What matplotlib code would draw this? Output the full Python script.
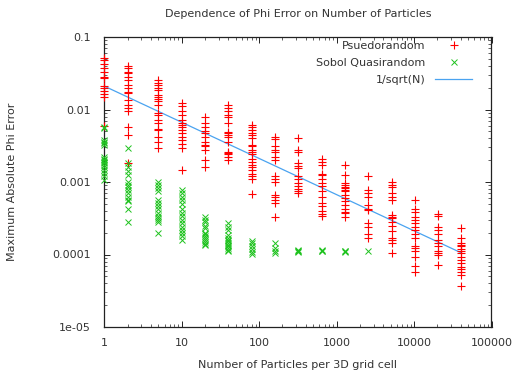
import matplotlib
matplotlib.use("Agg")
import matplotlib.pyplot as plt
from matplotlib.ticker import LogLocator, FixedLocator, FixedFormatter, NullFormatter

plt.rcParams['font.family'] = ['DejaVu Sans']

x_values = [1, 2, 5, 10, 20, 40, 80, 160, 320, 640, 1280, 2560, 5120, 10240, 20480, 40960]

pseudo = {
    1: [0.051, 0.048, 0.042, 0.037, 0.033, 0.028, 0.027, 0.021, 0.020, 0.018, 0.0164, 0.0147, 0.006],
    2: [0.040, 0.037, 0.033, 0.0315, 0.028, 0.0255, 0.022, 0.0196, 0.0176, 0.0167, 0.0135, 0.0115,
        0.0104, 0.0096, 0.0057, 0.0044, 0.0018],
    5: [0.0255, 0.0234, 0.0218, 0.0196, 0.0186, 0.0158, 0.015, 0.0139, 0.0132, 0.0115, 0.0089, 0.0084,
        0.0072, 0.0065, 0.0053, 0.0052, 0.0042, 0.0036, 0.0029],
    10: [0.0122, 0.0112, 0.0096, 0.0084, 0.0072, 0.0065, 0.0061, 0.0057, 0.0052, 0.0047, 0.0042, 0.0038,
         0.0033, 0.0029, 0.00147],
    20: [0.0078, 0.0065, 0.0057, 0.0051, 0.0048, 0.0042, 0.0036, 0.0032, 0.0031, 0.0028, 0.002, 0.0016],
    40: [0.0115, 0.0104, 0.0094, 0.0084, 0.008, 0.0066, 0.0049, 0.0047, 0.0044, 0.0042, 0.0036, 0.0026,
         0.0025, 0.0024, 0.0022, 0.002],
    80: [0.0061, 0.0057, 0.0052, 0.0048, 0.0044, 0.004, 0.0032, 0.0031, 0.0028, 0.0026, 0.0024, 0.0021,
         0.0019, 0.0017, 0.0016, 0.00146, 0.0013, 0.0012, 0.0011, 0.00068],
    160: [0.0042, 0.0039, 0.0031, 0.0028, 0.0026, 0.0022, 0.002, 0.0012, 0.0011, 0.001, 0.00066, 0.00062,
          0.00056, 0.00052, 0.00033],
    320: [0.0041, 0.0028, 0.0026, 0.0018, 0.00167, 0.00155, 0.0012, 0.0011, 0.00096, 0.00087, 0.0008,
          0.00074, 0.0007],
    640: [0.00206, 0.0019, 0.0017, 0.00129, 0.00125, 0.0011, 0.00096, 0.00087, 0.00074, 0.00063, 0.00051,
          0.00046, 0.0004, 0.00036, 0.00034],
    1280: [0.0017, 0.00125, 0.00098, 0.00091, 0.00086, 0.00082, 0.00078, 0.00074, 0.00066, 0.0006, 0.00054,
           0.00048, 0.00043, 0.00039, 0.00037, 0.00033],
    2560: [0.0012, 0.00078, 0.00071, 0.00063, 0.00048, 0.00043, 0.00041, 0.00027, 0.00024, 0.00019, 0.00017],
    5120: [0.001, 0.00091, 0.00086, 0.00071, 0.00063, 0.00056, 0.00035, 0.00033, 0.00032, 0.00028, 0.00025,
           0.00021, 0.000167, 0.000156, 0.000143, 0.000104],
    10240: [0.00056, 0.00043, 0.00039, 0.00033, 0.0003, 0.00027, 0.00024, 0.00022, 0.00019, 0.000167,
            0.000131, 0.000122, 0.000113, 0.000093, 0.0000693, 0.0000566],
    20480: [0.00036, 0.00034, 0.00024, 0.00022, 0.00019, 0.00016, 0.000143, 0.00013, 0.00011, 0.000104,
            0.0001, 0.000071],
    40960: [0.00023, 0.000167, 0.000146, 0.000136, 0.00013, 0.000119, 0.00011, 0.000104, 0.000093, 0.000084,
            0.000076, 0.000068, 0.000063, 0.000058, 0.000052, 0.000037],
}

sobol = {
    1: [0.0058, 0.0055, 0.0038, 0.0036, 0.0034, 0.0032, 0.0022, 0.0021, 0.0020, 0.0019, 0.0018, 0.0017,
        0.0016, 0.00146, 0.00133, 0.0012, 0.00107],
    2: [0.0029, 0.0018, 0.0016, 0.00143, 0.00125, 0.00101, 0.00091, 0.00086, 0.00078, 0.0007, 0.00063,
        0.00056, 0.00054, 0.00042, 0.00028],
    5: [0.00101, 0.00091, 0.00082, 0.00074, 0.00056, 0.00051, 0.00046, 0.00042, 0.00037, 0.00034, 0.00032,
        0.0003, 0.00028, 0.0002],
    10: [0.00078, 0.0007, 0.00063, 0.00056, 0.00049, 0.00042, 0.00037, 0.00034, 0.0003, 0.00027, 0.00024,
         0.00022, 0.0002, 0.00018, 0.00016],
    20: [0.00033, 0.0003, 0.00028, 0.00025, 0.00023, 0.0002, 0.00019, 0.00018, 0.00017, 0.00016, 0.00015,
         0.00014, 0.000135],
    40: [0.00027, 0.00024, 0.00022, 0.000186, 0.000168, 0.00016, 0.000152, 0.000144, 0.000136, 0.000129,
         0.000122, 0.000116, 0.00011],
    80: [0.000154, 0.000144, 0.000131, 0.000118, 0.000107, 0.000101],
    160: [0.000142, 0.000122, 0.000113, 0.000105],
    320: [0.000115, 0.000112, 0.00011, 0.000108],
    640: [0.000114, 0.000112, 0.00011],
    1280: [0.000113, 0.000111, 0.000109],
    2560: [0.000111],
}

line_x = [1, 40960]
line_y = [0.021, 0.000105]

x_ticks = [1, 10, 100, 1000, 10000, 100000]
x_tick_labels = ["1", "10", "100", "1000", "10000", "100000"]
y_ticks = [1e-5, 1e-4, 1e-3, 1e-2, 1e-1]
y_tick_labels = ["1e-05", "0.0001", "0.001", "0.01", "0.1"]

W, H = 518, 371
fig = plt.figure(figsize=(W / 100, H / 100), dpi=100)
L, R, T, B = 104.3, 491.5, 37, 327
ax = fig.add_axes([L / W, 1 - B / H, (R - L) / W, (B - T) / H])

px, py = [], []
for xv in x_values:
    for v in pseudo.get(xv, []):
        px.append(xv)
        py.append(v)
sx, sy = [], []
for xv in x_values:
    for v in sobol.get(xv, []):
        sx.append(xv)
        sy.append(v)

ax.plot(px, py, linestyle='none', marker='+', color='#ff0000', markersize=5.5,
        markeredgewidth=0.8, label='Psuedorandom', clip_on=False, zorder=3)
ax.plot(sx, sy, linestyle='none', marker='x', color='#1ec21e', markersize=4.2,
        markeredgewidth=0.7, label='Sobol Quasirandom', clip_on=False, zorder=3)
ax.plot(line_x, line_y, color='#4aa3f0', linewidth=0.9, label='1/sqrt(N)', zorder=2)

ax.set_xscale('log')
ax.set_yscale('log')
ax.set_xlim(1, 100000)
ax.set_ylim(1e-5, 0.1)

ax.xaxis.set_major_locator(FixedLocator(x_ticks))
ax.xaxis.set_major_formatter(FixedFormatter(x_tick_labels))
ax.yaxis.set_major_locator(FixedLocator(y_ticks))
ax.yaxis.set_major_formatter(FixedFormatter(y_tick_labels))
ax.xaxis.set_minor_locator(LogLocator(base=10, subs=range(2, 10), numticks=20))
ax.yaxis.set_minor_locator(LogLocator(base=10, subs=range(2, 10), numticks=20))
ax.xaxis.set_minor_formatter(NullFormatter())
ax.yaxis.set_minor_formatter(NullFormatter())

ax.tick_params(which='both', direction='in', top=True, right=True, colors='#222222',
               labelsize=8, labelcolor='#333333')
ax.tick_params(which='major', length=4.5, width=0.7)
ax.tick_params(axis='x', which='major', pad=8)
ax.tick_params(axis='y', which='major', pad=10)
ax.tick_params(which='minor', length=2.5, width=0.5)
for s in ax.spines.values():
    s.set_color('#222222')
    s.set_linewidth(0.9)

fig.text((L + R) / 2 / W, 1 - 14 / H, 'Dependence of Phi Error on Number of Particles',
         fontsize=8, color='#333333', ha='center', va='center')
ax.set_xlabel('Number of Particles per 3D grid cell', fontsize=8, color='#333333')
ax.set_ylabel('Maximum Absolute Phi Error', fontsize=8, color='#333333')
ax.xaxis.set_label_coords(0.5, (B - 365) / (B - T), transform=ax.transAxes)
ax.yaxis.set_label_coords((12 - L) / (R - L), 0.5, transform=ax.transAxes)
ax.xaxis.label.set_va('center')
ax.yaxis.label.set_va('center')

leg = ax.legend(loc='upper right', frameon=False, markerfirst=False, fontsize=8,
                handlelength=3.3, handletextpad=0.9, labelspacing=0.62,
                bbox_to_anchor=((474 - L) / (R - L) + 0.005, 1.0), borderaxespad=0.2,
                borderpad=0.15)
for t in leg.get_texts():
    t.set_color('#333333')

fig.savefig('out.png', dpi=100)
